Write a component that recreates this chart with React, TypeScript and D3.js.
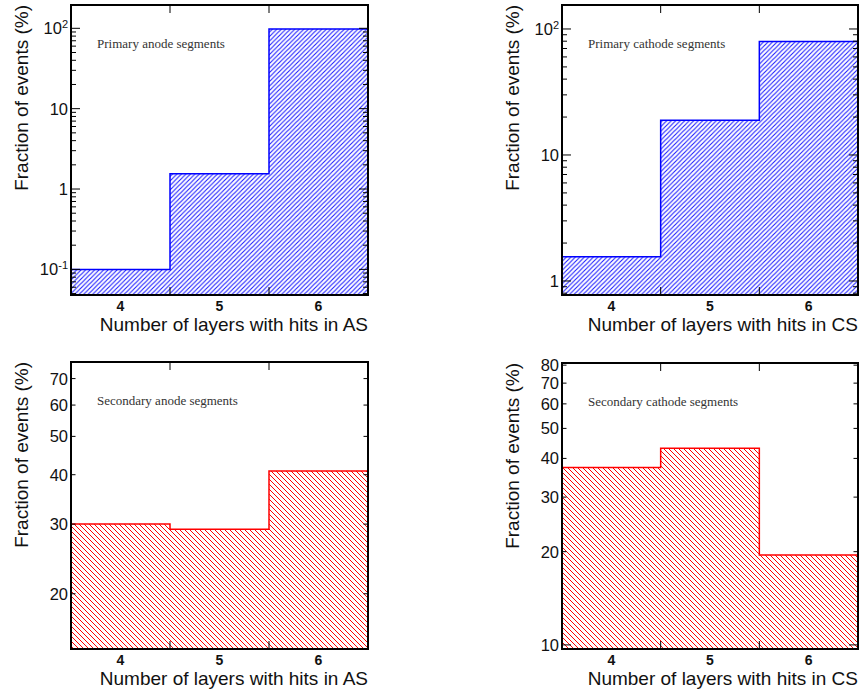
import React, { useEffect, useRef } from 'react';
import * as d3 from 'd3';

// layers with hits (bin centres) and fraction of events (%) per bin
const layers = [4, 5, 6];
const primaryAnode = [0.1, 1.55, 98.35];
const primaryCathode = [1.56, 18.9, 79.5];
const secondaryAnode = [30.0, 29.1, 40.9];
const secondaryCathode = [37.4, 43.1, 19.5];

// labelled y ticks
const primaryAnodeTicks = [0.1, 1, 10, 100];
const primaryAnodeLabels = ['10^-1', '1', '10', '10^2'];
const primaryCathodeTicks = [1, 10, 100];
const primaryCathodeLabels = ['1', '10', '10^2'];
const secondaryAnodeTicks = [20, 30, 40, 50, 60, 70];
const secondaryCathodeTicks = [10, 20, 30, 40, 50, 60, 70, 80];

const panels = [
  { x0: 71, x1: 368, y0: 5, y1: 295, domain: [0.048, 195], values: primaryAnode, ticks: primaryAnodeTicks,
    labels: primaryAnodeLabels, minors: true, color: '#0000ff', hatch: 'fwd', title: 'Primary anode segments', xTitle: 'Number of layers with hits in AS' },
  { x0: 562, x1: 858, y0: 5, y1: 295, domain: [0.774, 155], values: primaryCathode, ticks: primaryCathodeTicks,
    labels: primaryCathodeLabels, minors: true, color: '#0000ff', hatch: 'fwd', title: 'Primary cathode segments', xTitle: 'Number of layers with hits in CS' },
  { x0: 71, x1: 368, y0: 362, y1: 649, domain: [14.5, 77.1], values: secondaryAnode, ticks: secondaryAnodeTicks,
    labels: secondaryAnodeTicks.map(String), minors: false, color: '#ff0000', hatch: 'back', title: 'Secondary anode segments', xTitle: 'Number of layers with hits in AS' },
  { x0: 562, x1: 858, y0: 363, y1: 649, domain: [9.7, 81.3], values: secondaryCathode, ticks: secondaryCathodeTicks,
    labels: secondaryCathodeTicks.map(String), minors: false, color: '#ff0000', hatch: 'back', title: 'Secondary cathode segments', xTitle: 'Number of layers with hits in CS' },
];

const sans = 'Liberation Sans, Arial, Helvetica, sans-serif';

const App = () => {
  const ref = useRef<SVGSVGElement | null>(null);

  useEffect(() => {
    if (!ref.current) return;
    const svg = d3.select(ref.current);
    svg.selectAll('*').remove();

    const defs = svg.append('defs');
    const fwd = defs.append('pattern').attr('id', 'hatch-fwd').attr('patternUnits', 'userSpaceOnUse')
      .attr('width', 4.5).attr('height', 4.5);
    fwd.append('path').attr('d', 'M-1,1 l2,-2 M0,4.5 l4.5,-4.5 M3.5,5.5 l2,-2')
      .attr('stroke', '#1a1aff').attr('stroke-width', 1.1);
    const back = defs.append('pattern').attr('id', 'hatch-back').attr('patternUnits', 'userSpaceOnUse')
      .attr('width', 5).attr('height', 5);
    back.append('path').attr('d', 'M-1,4 l2,2 M0,0 l5,5 M4,-1 l2,2')
      .attr('stroke', '#ff0000').attr('stroke-width', 1.3).attr('shape-rendering', 'crispEdges');

    panels.forEach(p => {
      const g = svg.append('g');
      const x = d3.scaleLinear().domain([3.5, 6.5]).range([p.x0, p.x1]);
      const y = d3.scaleLog().domain(p.domain).range([p.y1, p.y0]);

      // histogram as steps
      const pts: [number, number][] = [[x(3.5), p.y1]];
      p.values.forEach((v, i) => {
        pts.push([x(layers[i] - 0.5), y(v)]);
        pts.push([x(layers[i] + 0.5), y(v)]);
      });
      pts.push([x(6.5), p.y1]);
      const line = d3.line();
      g.append('path').attr('d', line(pts) + 'Z')
        .attr('fill', `url(#hatch-${p.hatch})`)
        .attr('stroke', p.color).attr('stroke-width', 1.5);

      // y ticks (left & right, pointing inwards)
      const yTicks: { v: number; major: boolean }[] = p.ticks.map(v => ({ v, major: Math.abs(Math.log10(v) - Math.round(Math.log10(v))) < 1e-9 }));
      if (p.minors) {
        const lo = Math.floor(Math.log10(p.domain[0]));
        const hi = Math.ceil(Math.log10(p.domain[1]));
        for (let d = lo; d <= hi; d++) {
          for (let k = 2; k <= 9; k++) {
            const v = k * Math.pow(10, d);
            if (v >= p.domain[0] && v <= p.domain[1]) yTicks.push({ v, major: false });
          }
        }
      }
      yTicks.forEach(t => {
        const len = t.major ? 9 : (p.minors ? 5 : 4.5);
        const yy = y(t.v);
        g.append('line').attr('x1', p.x0).attr('x2', p.x0 + len).attr('y1', yy).attr('y2', yy)
          .attr('stroke', '#000').attr('stroke-width', 1);
        g.append('line').attr('x1', p.x1).attr('x2', p.x1 - len).attr('y1', yy).attr('y2', yy)
          .attr('stroke', '#000').attr('stroke-width', 1);
      });

      // y tick labels
      p.ticks.forEach((v, i) => {
        const lab = p.labels[i];
        const t = g.append('text').attr('x', p.x0 - 3).attr('y', y(v)).attr('dy', '0.36em')
          .attr('text-anchor', 'end').attr('font-family', sans).attr('font-size', 16.5).attr('fill', '#111');
        const parts = lab.split('^');
        t.append('tspan').text(parts[0]);
        if (parts[1]) {
          t.append('tspan').attr('font-size', 11).attr('dy', '-0.55em').text(parts[1]);
        }
      });

      // x ticks at bin edges
      [4.5, 5.5].forEach(e => {
        g.append('line').attr('x1', x(e)).attr('x2', x(e)).attr('y1', p.y1).attr('y2', p.y1 - 8)
          .attr('stroke', '#000').attr('stroke-width', 1);
        g.append('line').attr('x1', x(e)).attr('x2', x(e)).attr('y1', p.y0).attr('y2', p.y0 + 8)
          .attr('stroke', '#000').attr('stroke-width', 1);
      });

      // x labels
      layers.forEach(l => {
        g.append('text').attr('x', x(l)).attr('y', p.y1 + 16).attr('text-anchor', 'middle')
          .attr('font-family', sans).attr('font-size', 14).attr('font-weight', 'bold').attr('fill', '#111')
          .text(String(l));
      });

      // frame
      g.append('rect').attr('x', p.x0).attr('y', p.y0).attr('width', p.x1 - p.x0).attr('height', p.y1 - p.y0)
        .attr('fill', 'none').attr('stroke', '#000').attr('stroke-width', 2);

      // titles
      g.append('text').attr('x', p.x1).attr('y', p.y1 + 36).attr('text-anchor', 'end')
        .attr('font-family', sans).attr('font-size', 19).attr('fill', '#111').text(p.xTitle);
      g.append('text').attr('transform', `translate(${p.x0 - 43},${p.y0}) rotate(-90)`).attr('text-anchor', 'end')
        .attr('font-family', sans).attr('font-size', 19).attr('fill', '#111').text('Fraction of events (%)');
      g.append('text').attr('x', p.x0 + 26).attr('y', p.y0 + 43)
        .attr('font-family', 'Liberation Serif, Times New Roman, serif').attr('font-size', 13).attr('fill', '#333')
        .text(p.title);
    });
  }, []);

  return (
    <svg ref={ref} width={864} height={693} style={{ position: 'absolute', left: 0, top: 0, background: '#fff' }} />
  );
};

export default App;
